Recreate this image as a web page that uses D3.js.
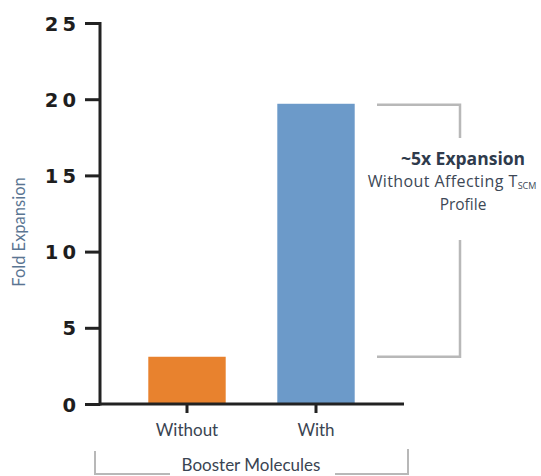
<!DOCTYPE html>
<html><head><meta charset="utf-8">
<script src="https://cdn.jsdelivr.net/npm/d3@7"></script>
<style>body{margin:0;background:#fff}</style>
</head><body>
<svg id="c" width="541" height="476"></svg>
<script>
const categories = ["Without", "With"];
const values = [3.1, 19.7];
const yTicks = [0, 5, 10, 15, 20, 25];
const colors = ["#E8822E", "#6C9AC9"];

const svg = d3.select("#c");
const x = d3.scaleBand().domain(categories).range([100, 403]).paddingInner(0.4).paddingOuter(0.3744);
const y = d3.scaleLinear().domain([0, 25]).range([404, 23]);

// bars
svg.selectAll("rect.bar").data(values).join("rect")
  .attr("x", (d, i) => x(categories[i]))
  .attr("width", x.bandwidth())
  .attr("y", d => y(d))
  .attr("height", d => y(0) - y(d))
  .attr("fill", (d, i) => colors[i]);

// y axis
const ya = svg.append("g").attr("transform", "translate(100,0)")
  .call(d3.axisLeft(y).tickValues(yTicks).tickSize(15).tickPadding(9));
ya.select(".domain").attr("stroke", "#222").attr("stroke-width", 3).attr("d", `M0,${y(25)-1}V${y(0)+1.5}`);
ya.selectAll(".tick line").attr("stroke", "#222").attr("stroke-width", 3);
ya.selectAll(".tick text").attr("font-family", "DejaVu Sans, sans-serif")
  .attr("font-weight", "bold").attr("font-size", 19.5).attr("fill", "#1e1e1e")
  .attr("letter-spacing", 4).attr("dx", 4).attr("dy", "0.36em");

// x axis
const xa = svg.append("g").attr("transform", `translate(0,${y(0)})`)
  .call(d3.axisBottom(x).tickSize(9).tickPadding(9));
xa.select(".domain").attr("stroke", "#222").attr("stroke-width", 3).attr("d", "M100,0H404");
xa.selectAll(".tick line").attr("stroke", "#222").attr("stroke-width", 3);
xa.selectAll(".tick text").attr("font-family", "Lato, sans-serif").attr("font-size", 17)
  .attr("fill", "#3a4452").attr("dy", "0.85em");

// y title
svg.append("text").attr("transform", "translate(25,232) rotate(-90)")
  .attr("text-anchor", "middle").attr("font-family", "Lato, sans-serif").attr("font-size", 16.5)
  .attr("fill", "#5a7592").text("Fold Expansion");

// x title + bracket
svg.append("text").attr("x", 251).attr("y", 471).attr("text-anchor", "middle")
  .attr("font-family", "Lato, sans-serif").attr("font-size", 17).attr("fill", "#3a4452")
  .text("Booster Molecules");
const gray = "#b8b8b8";
svg.append("path").attr("d", "M95,451V474H170 M408,449V474H335")
  .attr("fill", "none").attr("stroke", gray).attr("stroke-width", 2);

// right bracket
const yTop = y(values[1]), yBot = y(values[0]);
svg.append("path").attr("d", `M377,${yTop + 1}H460V138 M460,240V${yBot}H377`)
  .attr("fill", "none").attr("stroke", gray).attr("stroke-width", 2.5);

const ann = svg.append("g").attr("font-family", "Open Sans, sans-serif").attr("fill", "#2f3b4c");
ann.append("text").attr("x", 463).attr("y", 165).attr("text-anchor", "middle")
  .attr("font-weight", "bold").attr("font-size", 17.5).text("~5x Expansion");
const t2 = ann.append("text").attr("x", 452).attr("y", 187).attr("text-anchor", "middle")
  .attr("font-size", 16).attr("letter-spacing", 0.4).attr("fill", "#3d4856");
t2.append("tspan").text("Without Affecting T");
t2.append("tspan").attr("font-size", 9).attr("dy", 2).attr("letter-spacing", 0).text("SCM");
ann.append("text").attr("x", 463).attr("y", 210).attr("text-anchor", "middle")
  .attr("font-size", 15.5).attr("fill", "#3d4856").text("Profile");
</script>
</body></html>
